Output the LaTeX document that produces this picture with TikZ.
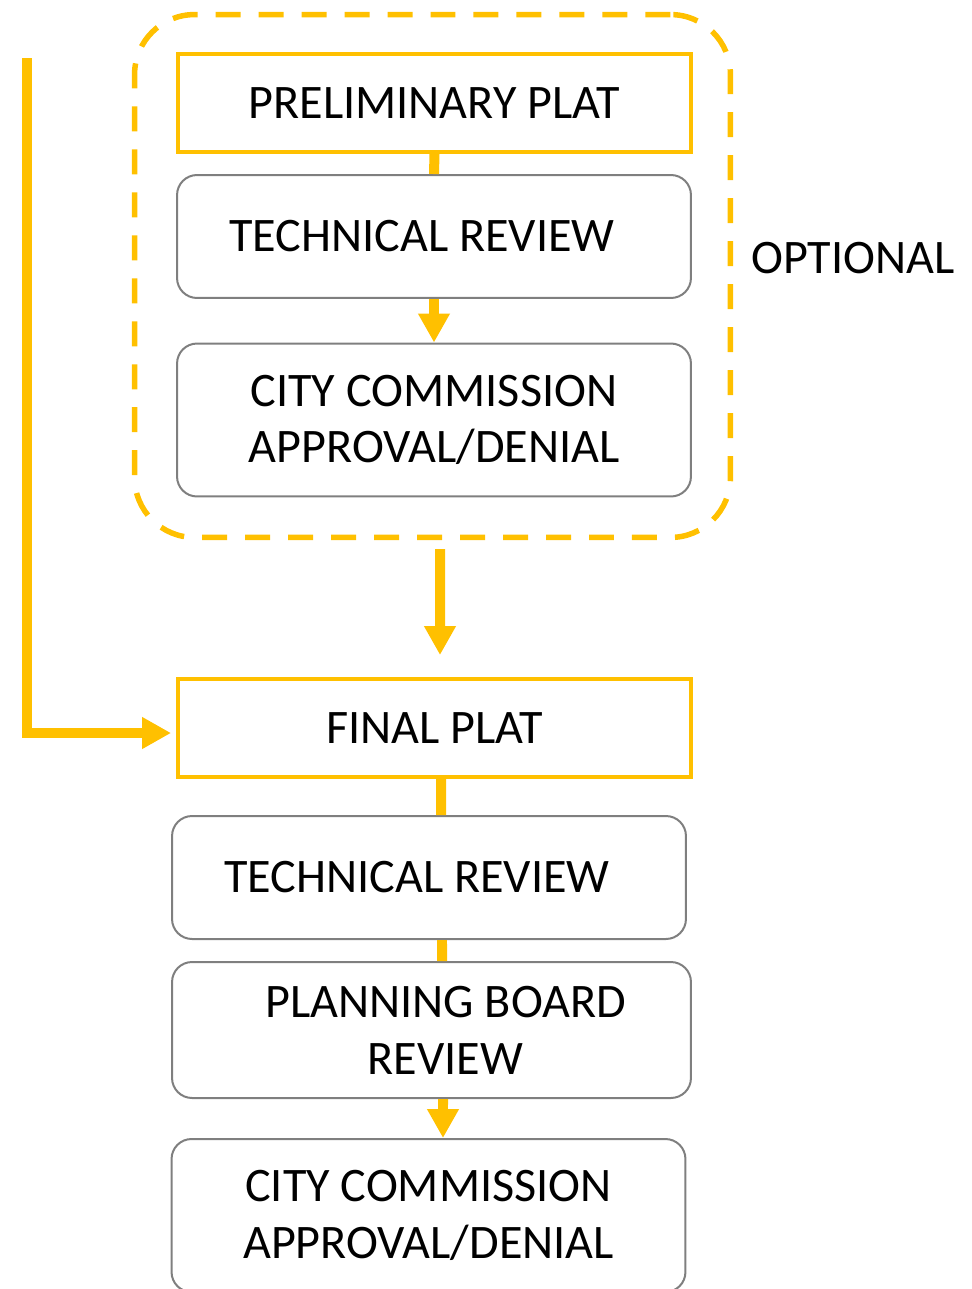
\documentclass[tikz,border=0pt]{standalone}
\usepackage{fontspec}
\setmainfont{Carlito}
\usetikzlibrary{arrows.meta}
\definecolor{plat}{HTML}{FFC000}
\definecolor{frame}{HTML}{7F7F7F}

\begin{document}
\begin{tikzpicture}[x=0.02cm,y=-0.02cm,>={Triangle[width=0.6cm,length=0.58cm]},
  every node/.style={font=\fontsize{27.4}{32.3}\selectfont,align=center,inner sep=0pt},
  stage/.style={draw=plat,line width=0.08cm,minimum width=10.26cm,minimum height=1.96cm},
  review/.style={draw=frame,line width=0.04cm,rounded corners=0.4cm,minimum width=10.28cm},
  optionalbox/.style={draw=plat,line width=0.11cm,dash pattern=on 0.5cm off 0.36cm,
    rounded corners=1.2cm,minimum width=11.92cm,minimum height=10.46cm},
  link/.style={color=plat,line width=0.2cm}]
  \useasboundingbox (0,0) rectangle (971,1289);
  \node[optionalbox]                    (optional) at (432.5,276)  {};
  \node[anchor=west]                    (optlabel) at (751,258)    {OPTIONAL};
  \node[stage]                          (prelim)   at (434.5,103)  {PRELIMINARY PLAT};
  \node[review,minimum height=2.46cm]   (tech1)    at (434,236.5)  {TECHNICAL REVIEW\hspace*{0.48cm}};
  \node[review,minimum height=3.06cm]   (city1)    at (434,420)    {CITY COMMISSION\\APPROVAL/DENIAL};
  \node[stage]                          (final)    at (434.5,728)  {FINAL PLAT};
  \node[review,minimum height=2.46cm]   (tech2)    at (429,877.5)  {TECHNICAL REVIEW\hspace*{0.48cm}};
  \node[review,minimum width=10.38cm,minimum height=2.72cm]
                                        (board)    at (431.5,1030) {\hspace*{0.56cm}PLANNING BOARD\\\hspace*{0.56cm}REVIEW};
  \node[review,minimum height=3.06cm]   (city2)    at (428.5,1215.5) {CITY COMMISSION\\APPROVAL/DENIAL};
  \coordinate (back) at (27,58);
  \path[link]
    (prelim.south) edge (tech1.north)
    (tech1.south) edge[->] (city1.north)
    ([xshift=0.15cm]optional.south) edge[->,shorten <=0.18cm,shorten >=0.44cm] ([xshift=0.11cm]final.north)
    ([xshift=0.13cm]final.south) edge ([xshift=0.24cm]tech2.north)
    ([xshift=0.26cm]tech2.south) edge ([xshift=0.21cm]board.north)
    ([xshift=0.23cm]board.south) edge[->] ([xshift=0.29cm]city2.north)
  ;
  \draw[link,->,shorten >=0.1cm] (back) |- ([yshift=-0.1cm]final.west);
\end{tikzpicture}
\end{document}
